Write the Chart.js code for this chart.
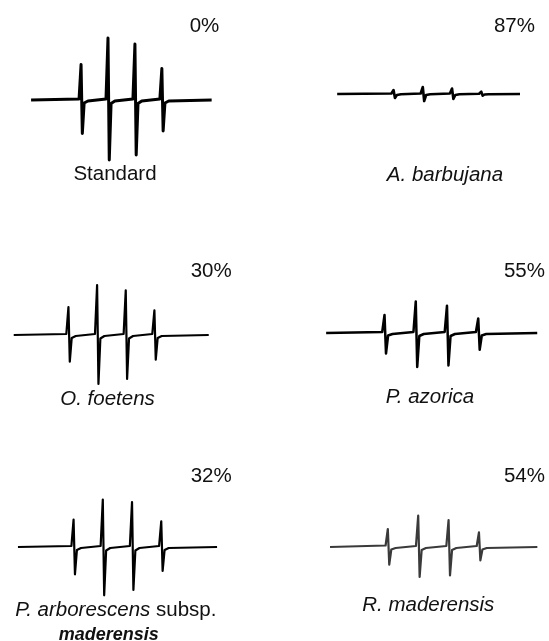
<!DOCTYPE html>
<html>
<head>
<meta charset="utf-8">
<script src="https://cdn.jsdelivr.net/npm/chart.js@4"></script>
<style>
  html, body { margin: 0; padding: 0; background: #fff; overflow: hidden; }
  #fig { position: relative; width: 549px; height: 641px; font-family: "Liberation Sans", Arial, sans-serif; font-size: 20.5px; color: #111; }
  #fig canvas { position: absolute; }
  .txt { position: absolute; line-height: 20.5px; white-space: nowrap; }
</style>
</head>
<body>
<div id="fig"></div>
<script>
// field offset from centre (G), shared by every spectrum: 4 lines of the spin-adduct
const field = [-23.75, -22.65, -21.95, -20.95, -18.85,
               -8.85, -7.75, -7.05, -6.05, -3.95,
               6.05, 7.15, 7.85, 8.85, 10.95,
               20.95, 22.05, 22.75, 23.75, 25.85];

// sweep limits (G) for each sample
const sweepStart = [-50.3, -51.4, -51.1, -50.5, -51.0, -51.0];
const sweepEnd   = [49.6, 41.8, 50.3, 50.2, 50.5, 50.7];

// signal (a.u.) at each field point
const standard    = [1, 35.5, -33.5, -3, -1,  1, 62, -60, -3.5, -1,  1, 56, -55, -3.5, -1,  1, 31.5, -31, -3, -1];
const barbujana   = [0.5, 4, -4, -1, -0.3,  0.5, 7, -7, -1, -0.3,  0.5, 5.5, -5, -1, -0.3,  0.3, 2.3, -1.7, -0.5, -0.2];
const foetens     = [1, 28, -26.7, -3, -1,  1, 50, -49, -3.5, -1,  1, 44.7, -44, -3.5, -1,  1, 24.7, -24.7, -3, -1];
const azorica     = [1, 18, -20.5, -2.5, -1,  1, 31.5, -34, -3, -1,  1, 27.3, -32.4, -3, -1,  1, 14.6, -16.7, -2.5, -1];
const arborescens = [1, 27.4, -27.3, -3, -1,  1, 47.4, -48.3, -3.5, -1,  1, 45, -43, -3.5, -1,  1, 25.7, -24, -3, -1];
const rmaderensis = [1.5, 18, -17.7, -2.5, -1,  1, 31.3, -30, -3, -1,  1, 27, -28.4, -3, -1,  1, 14.6, -13.4, -2.5, -1];

const signals = [standard, barbujana, foetens, azorica, arborescens, rmaderensis];
const samples = ['Standard', '<i>A. barbujana</i>', '<i>O. foetens</i>', '<i>P. azorica</i>',
                 '<i>P. arborescens</i> subsp.', '<i>R. maderensis</i>'];
const inhibition = ['0%', '87%', '30%', '55%', '32%', '54%'];

// layout of the six panels (pixels) and line styles
const panels = [
  { left: 28.0,  width: 188.4, base: 100.0, lw: 3.0, color: '#000',    nameX: 115,   nameY: 180.7, pctX: 219.3, pctY: 32.3 },
  { left: 335.9, width: 204.0, base: 93.6,  lw: 2.6, color: '#000',    nameX: 445,   nameY: 181,   pctX: 535,   pctY: 32.3 },
  { left: 12.3,  width: 200.0, base: 335.0, lw: 2.2, color: '#000',    nameX: 107.5, nameY: 405,   pctX: 231.7, pctY: 277.7 },
  { left: 322.9, width: 218.0, base: 333.3, lw: 2.5, color: '#000',    nameX: 430,   nameY: 403.3, pctX: 545,   pctY: 277.7 },
  { left: 15.8,  width: 204.0, base: 546.7, lw: 2.2, color: '#000',    nameX: 115.8, nameY: 616.7, pctX: 231.7, pctY: 482.7 },
  { left: 327.9, width: 211.7, base: 547.3, lw: 2.2, color: '#3a3a3a', nameX: 428.3, nameY: 611.7, pctX: 545,   pctY: 482.7 }
];
const yHalf = 70;
const fig = document.getElementById('fig');

function addText(html, x, baseline, align, extra) {
  const d = document.createElement('div');
  d.className = 'txt';
  d.innerHTML = html;
  d.style.top = (baseline - 17.35) + 'px';
  d.style.width = '300px';
  d.style.textAlign = align;
  d.style.left = (align === 'center' ? x - 150 : x - 300) + 'px';
  if (extra) Object.assign(d.style, extra);
  fig.appendChild(d);
}

panels.forEach((p, i) => {
  const cv = document.createElement('canvas');
  cv.width = Math.round(p.width);
  cv.height = yHalf * 2;
  cv.style.left = p.left + 'px';
  cv.style.top = (p.base - yHalf) + 'px';
  fig.appendChild(cv);

  const pts = [{ x: sweepStart[i], y: 0 }];
  field.forEach((f, k) => pts.push({ x: f, y: signals[i][k] }));
  pts.push({ x: sweepEnd[i], y: 0 });

  new Chart(cv, {
    type: 'line',
    data: {
      datasets: [{
        data: pts,
        borderColor: p.color,
        borderWidth: p.lw,
        borderJoinStyle: 'round',
        pointRadius: 0,
        tension: 0,
        fill: false
      }]
    },
    options: {
      responsive: false,
      animation: false,
      devicePixelRatio: 1,
      layout: { padding: 0 },
      plugins: { legend: { display: false }, tooltip: { enabled: false } },
      scales: {
        x: { type: 'linear', min: -52, max: 52, display: false },
        y: { min: -yHalf, max: yHalf, display: false }
      }
    }
  });

  addText(samples[i], p.nameX, p.nameY, 'center');
  addText(inhibition[i], p.pctX, p.pctY, 'right');
});

// second line of the P. arborescens label (cut by the lower edge)
addText('<b><i>maderensis</i></b>', 108.7, 641.5, 'center', { fontSize: '18px' });
</script>
</body>
</html>
